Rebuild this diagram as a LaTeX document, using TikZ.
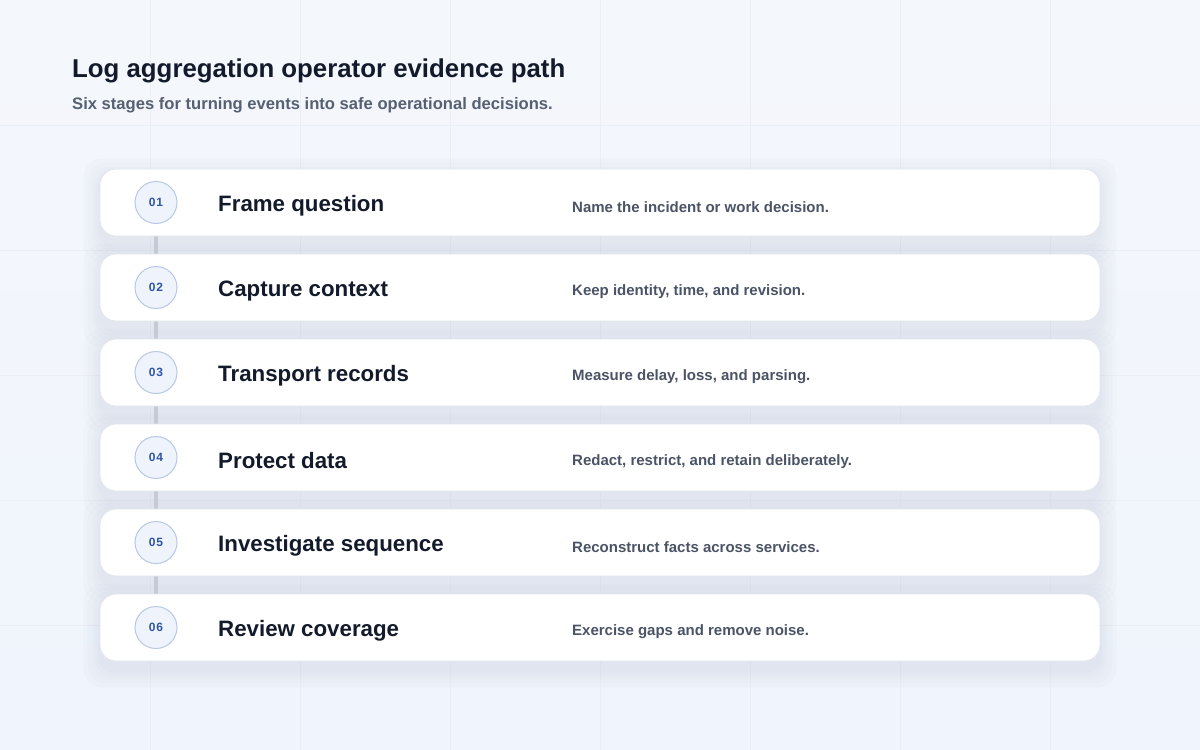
\documentclass[tikz,border=0pt]{standalone}
\usepackage{fontspec}
\setmainfont{Liberation Sans}
\usetikzlibrary{positioning}
\pgfdeclarelayer{bg}
\pgfsetlayers{bg,main}
\definecolor{bgA}{HTML}{F6F8FC}
\definecolor{bgB}{HTML}{EEF3FC}
\definecolor{gridc}{HTML}{EAEEF5}
\definecolor{titlec}{HTML}{121A2B}
\definecolor{subc}{HTML}{566072}
\definecolor{descc}{HTML}{4A5466}
\definecolor{numc}{HTML}{2F55A3}
\definecolor{circfill}{HTML}{EEF3FC}
\definecolor{circline}{HTML}{B8C8E6}
\definecolor{linkc}{HTML}{C6CAD2}
\definecolor{cardline}{HTML}{E1E5EE}
\definecolor{shadc}{HTML}{B5BDD0}
\tikzset{
  card/.style={rectangle, rounded corners=16pt, minimum width=1000pt, minimum height=67pt, fill=white, draw=cardline, line width=0.8pt, inner sep=0pt},
  numcirc/.style={circle, minimum size=42pt, inner sep=0pt, fill=circfill, draw=circline, line width=1pt, text=numc, font=\fontsize{12}{14}\selectfont\bfseries},
  steptitle/.style={anchor=west, inner sep=0pt, text=titlec, font=\fontsize{22.3}{26}\selectfont\bfseries},
  stepdesc/.style={anchor=west, inner sep=0pt, text=descc, font=\fontsize{15}{18}\selectfont\bfseries},
  link/.style={draw=linkc, line width=3.5pt},
}
\newcommand{\spaced}[1]{\addfontfeatures{LetterSpace=8}#1}
\begin{document}
\begin{tikzpicture}[x=1pt,y=-1pt]
\useasboundingbox (0,0) rectangle (1200,750);
% cards
\foreach \i/\t/\d in {1/Frame question/Name the incident or work decision.,
  2/Capture context/{Keep identity, time, and revision.},
  3/Transport records/{Measure delay, loss, and parsing.},
  4/Protect data/{Redact, restrict, and retain deliberately.},
  5/Investigate sequence/Reconstruct facts across services.,
  6/Review coverage/Exercise gaps and remove noise.}{
  \pgfmathsetmacro{\yy}{202.5+85*(\i-1)}
  \node[card] (card\i) at (600,\yy) {};
  \node[numcirc] (num\i) at (156,\yy) {\spaced{0\i}};
  \node[steptitle] (title\i) at (218,\yy+3.5) {\t};
  \node[stepdesc] (desc\i) at (572,\yy+4.5) {\d};
}
\begin{pgfonlayer}{bg}
  \shade[shading angle=135, top color=bgA, bottom color=bgB] (-300,-300) rectangle (1500,1050);
  \foreach \x in {150,300,...,1050} \draw[gridc, line width=1pt] (\x,0) -- (\x,750);
  \foreach \y in {125,250,...,625} \draw[gridc, line width=1pt] (0,\y) -- (1200,\y);
  % soft shadows
  \foreach \i in {1,...,6}{
    \foreach \s in {16,12,8,5,2}{
      \fill[shadc, opacity=0.05] ([xshift=-\s pt, yshift=-6pt+\s pt]card\i.north west) [rounded corners=18pt] rectangle ([xshift=\s pt, yshift=-10pt-\s pt]card\i.south east);
    }
  }
  \foreach \i/\j in {1/2,2/3,3/4,4/5,5/6} \draw[link] (num\i) -- (num\j);
\end{pgfonlayer}
% heading
\node[anchor=base west, inner sep=0pt, text=titlec, font=\fontsize{25.8}{30}\selectfont\bfseries] (head) at (72,77) {Log aggregation operator evidence path};
\node[anchor=base west, inner sep=0pt, text=subc, font=\fontsize{16.6}{20}\selectfont\bfseries] (sub) at (72,109.5) {Six stages for turning events into safe operational decisions.};
\end{tikzpicture}
\end{document}
